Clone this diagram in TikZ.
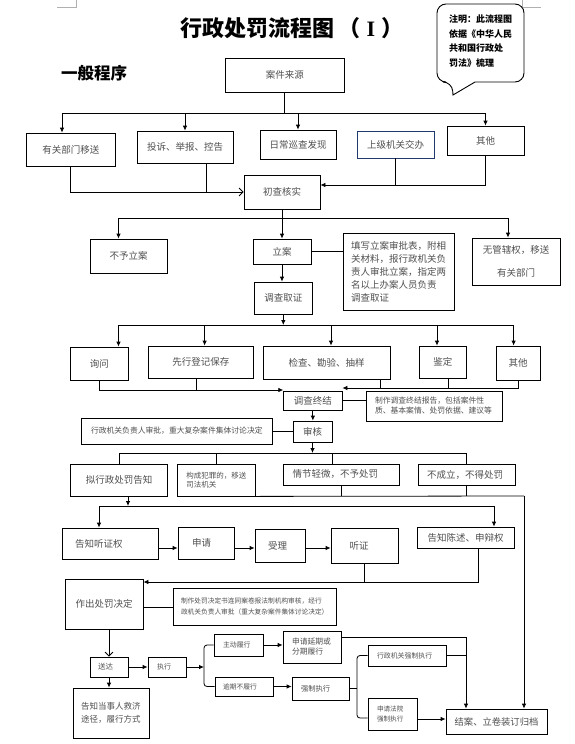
\documentclass[tikz,border=0pt]{standalone}
\usepackage{fontspec}
\setmainfont{Noto Sans CJK SC}
\newfontfamily\romanfont{Liberation Serif}
\usetikzlibrary{arrows.meta}
\definecolor{txt}{HTML}{505050}
\definecolor{navy}{HTML}{1F3A6E}
\definecolor{cropmark}{HTML}{B0B0B0}
\begin{document}
\begin{tikzpicture}[x=1pt,y=-1pt,
  box/.style={draw=black, line width=0.8pt, inner sep=0pt, text=txt, align=center},
  fs/.style n args={2}{font=\fontsize{#1}{#2}\selectfont},
  wh/.style n args={2}{minimum width=#1pt, minimum height=#2pt},
  ln/.style={draw=black, line width=0.8pt},
  arr/.style={ln, -{Latex[length=5pt,width=4.5pt]}},
  oarr/.style={ln, -{Straight Barb[length=4pt,width=8pt]}}]
\useasboundingbox (0,0) rectangle (574,744);
\fill[white] (0,0) rectangle (574,744);
% crop marks
\draw[cropmark, line width=0.6pt] (57,7) -- (76,7) -- (76,0);
\draw[cropmark, line width=0.6pt] (522,0) -- (522,7) -- (541,7);
% title
\node[font=\fontsize{22}{22}\selectfont\bfseries] (title) at (292,28) {行政处罚流程图\hspace{4pt}（\hspace{6pt}{\romanfont\bfseries I}\hspace{6pt}）};
\node[font=\fontsize{16.5}{17}\selectfont\bfseries] (sub) at (94,73) {一般程序};
% callout
\draw[line width=0.9pt] (453,95) -- (475,82) [rounded corners=9pt] -- (524,82) -- (524,4) -- (437,4) -- (437,82) -- (452,82) [sharp corners] -- cycle;
\node[font=\fontsize{9}{14.7}\selectfont\bfseries, align=left, anchor=west, inner sep=0pt] (callout) at (449,41) {注明：此流程图\\依据《中华人民\\共和国行政处\\罚法》梳理};
% boxes
\node[box, wh={118.5}{34}, fs={9.5}{11}] (src) at (284.75,75) {案件来源};
\node[box, wh={88.5}{33}, fs={9.5}{11}] (b1) at (70.75,149.5) {有关部门移送};
\node[box, wh={96}{32}, fs={9.5}{11}] (b2) at (185,147) {投诉、举报、控告};
\node[box, wh={76}{29}, fs={9.5}{11}] (b3) at (298,144.5) {日常巡查发现};
\node[box, draw=navy, wh={77}{27}, fs={9.5}{11}] (b4) at (395.5,144.5) {上级机关交办};
\node[box, wh={77}{29}, fs={9.5}{11}] (b5) at (485.5,140.5) {其他};
\node[box, wh={76}{34}, fs={9.5}{11}] (init) at (282,192) {初查核实};
\node[box, wh={77}{34}, fs={9.5}{11}] (no) at (128.5,256) {不予立案};
\node[box, wh={58}{25}, fs={9.5}{11}] (la) at (282,251.5) {立案};
\node[box, wh={111}{77}, fs={9.5}{13}, align=left, text width=95pt, inner xsep=8pt] (lanote) at (398.5,271.5) {填写立案审批表，附相\\关材料，报行政机关负\\责人审批立案，指定两\\名以上办案人员负责\\调查取证};
\node[box, wh={88}{47}, fs={9.5}{23}] (wgx) at (516,261.5) {无管辖权，移送\\有关部门};
\node[box, wh={57.4}{32}, fs={9.5}{11}] (dc) at (283.3,298) {调查取证};
\node[box, wh={57.4}{33}, fs={9.5}{11}] (xw) at (99.3,363.5) {询问};
\node[box, wh={105.5}{32}, fs={9.5}{11}] (xx) at (200.75,362) {先行登记保存};
\node[box, wh={127}{33}, fs={9.5}{11}] (jc) at (326.5,362.5) {检查、勘验、抽样};
\node[box, wh={47.5}{32}, fs={9.5}{11}] (jd) at (442.75,362) {鉴定};
\node[box, wh={44}{34}, fs={9.5}{11}] (qt) at (518,363) {其他};
\node[box, wh={58.3}{19}, fs={9.5}{11}] (zj) at (312.85,400.5) {调查终结};
\node[box, wh={136}{30}, fs={7.8}{10}, align=left, text width=118pt, inner xsep=9pt] (zjnote) at (434,406) {制作调查终结报告，包括案件性\\质、基本案情、处罚依据、建议等};
\node[box, wh={39}{21}, fs={9.5}{11}] (sh) at (312.5,431.5) {审核};
\node[box, wh={191.6}{26}, fs={7.8}{10}] (shnote) at (176.8,431) {行政机关负责人审批，重大复杂案件集体讨论决定};
\node[box, wh={96.8}{32}, fs={9.5}{11}] (ng) at (119,480) {拟行政处罚告知};
\node[box, wh={77.3}{32}, fs={7.5}{9}, align=left] (fz) at (216.35,480) {构成犯罪的，移送\\司法机关};
\node[box, wh={115.3}{21}, fs={9.5}{11}, align=left, text width=97.7pt, inner xsep=8.8pt] (qj) at (341.35,474.5) {情节轻微，不予处罚};
\node[box, wh={97}{21}, fs={9.5}{11}, align=left, text width=79pt, inner xsep=9pt] (bcl) at (466.5,474.5) {不成立，不得处罚};
\node[box, wh={96}{31}, fs={9.5}{11}, align=left, text width=70pt, inner xsep=13pt] (tz) at (110,543.5) {告知听证权};
\node[box, wh={56}{32}, fs={9.5}{11}, align=left, text width=28pt, inner xsep=14pt] (sq) at (206,543) {申请};
\node[box, wh={50}{33}, fs={9.5}{11}, align=left, text width=24pt, inner xsep=13pt] (sl) at (280,545.5) {受理};
\node[box, wh={67}{35}, fs={9.5}{11}, align=left, text width=30pt, inner xsep=18.5pt] (tzh) at (364.5,545.5) {听证};
\node[box, wh={97}{21}, fs={9.5}{11}] (cs) at (465.5,537.5) {告知陈述、申辩权};
\node[box, wh={78}{50}, fs={9.5}{11}] (zc) at (104,604) {作出处罚决定};
\node[box, wh={163}{37}, fs={6.7}{11}, align=left, text width=147pt, inner xsep=8pt] (zcnote) at (254.5,606.5) {制作处罚决定书连同案卷报法制机构审核，经行\\政机关负责人审批（重大复杂案件集体讨论决定）};
\node[box, wh={38}{20}, fs={7.5}{9}, align=left, text width=22pt, inner xsep=8pt] (sd) at (109,667) {送达};
\node[box, wh={76}{50}, fs={8.5}{13}, align=left, text width=60pt, inner xsep=8pt] (gz) at (111,713) {告知当事人救济\\途径，履行方式};
\node[box, wh={38}{20}, fs={7}{9}, align=left, text width=20pt, inner xsep=9pt] (zx) at (167,667) {执行};
\node[box, wh={49}{22}, fs={6.9}{9}, align=left, text width=31pt, inner xsep=9pt] (zd) at (238.5,645) {主动履行};
\node[box, wh={58}{19}, fs={6.8}{9}, align=left, text width=42pt, inner xsep=8pt] (yq) at (244,686.5) {逾期不履行};
\node[box, wh={58}{32}, fs={7.8}{10}, align=left, text width=40pt, inner xsep=9pt] (yqsq) at (312,647) {申请延期或\\分期履行};
\node[box, wh={57}{23}, fs={7.3}{9}, align=left, text width=39pt, inner xsep=9pt] (qz) at (320.5,688.5) {强制执行};
\node[box, wh={78}{21}, fs={6.9}{9}, align=left, text width=60pt, inner xsep=9pt] (xzqz) at (407,655.5) {行政机关强制执行};
\node[box, wh={49}{32}, fs={6.6}{10}, align=left, text width=31pt, inner xsep=9pt] (fy) at (392.5,714) {申请法院\\强制执行};
\node[box, wh={101}{25}, fs={9.3}{11}] (ja) at (496.5,721.5) {结案、立卷装订归档};
% connectors: sources
\coordinate (tL) at (62,113);
\coordinate (tR) at (b5.north |- 0,113);
\draw[ln] (src.south) -- (src.south |- tL);
\draw[ln] (tL) -- (tR);
\draw[arr] (tL) -- (tL |- b1.north);
\draw[arr] (b2.north |- tL) -- (b2.north);
\draw[arr] (b3.north |- tL) -- (b3.north);
\draw[arr] (tR) -- (b5.north);
\draw[oarr] (b1.south) |- (init.west);
\coordinate (j2) at (206,192);
\draw[ln] (b2.south -| j2) -- (j2);
\coordinate (j5) at (init.east |- 0,185);
\draw[arr] (b5.south) |- (j5);
\draw[ln] (b4.south) -- (b4.south |- j5);
% initial check
\coordinate (c0) at (init.south |- 0,218);
\coordinate (cL) at (118.5,218);
\coordinate (cR) at (508,218);
\draw[ln] (init.south) -- (c0);
\draw[ln] (cL) -- (cR);
\draw[arr] (cL) -- (cL |- no.north);
\draw[arr] (c0) -- (c0 |- la.north);
\draw[arr] (cR) -- (cR |- wgx.north);
\draw[ln] (la.east) -- (la.east -| lanote.west);
\draw[arr] (la.south) -- (la.south |- dc.north);
% investigation
\coordinate (d0) at (dc.south |- 0,325);
\coordinate (dL) at (118.5,325);
\coordinate (dR) at (513.6,325);
\coordinate (d2) at (204.6,325);
\coordinate (d3) at (331,325);
\coordinate (d4) at (437,325);
\draw[arr] (dc.south) -- (d0);
\draw[ln] (dL) -- (dR);
\draw[arr] (dL) -- (dL |- xw.north);
\draw[arr] (d2) -- (d2 |- xx.north);
\draw[arr] (d3) -- (d3 |- jc.north);
\draw[arr] (d4) -- (d4 |- jd.north);
\draw[arr] (dR) -- (dR |- qt.north);
\coordinate (zL) at (zj.north west |- 0,390);
\coordinate (zR) at (zj.north east |- 0,388);
\coordinate (x2) at (196,390);
\coordinate (x3) at (380,388);
\coordinate (x4) at (448,388);
\draw[arr] (xw.south) |- (zL);
\draw[ln] (x2 |- xx.south) -- (x2);
\draw[arr] (qt.south) |- (zR);
\draw[ln] (x3 |- jc.south) -- (x3);
\draw[ln] (x4 |- jd.south) -- (x4);
\draw[ln] (zj.east) -- (zj.east -| zjnote.west);
\draw[arr] (zj.south) -- (zj.south |- sh.north);
\draw[ln] (shnote.east) -- (shnote.east -| sh.west);
% review
\coordinate (e0) at (sh.south |- 0,453);
\coordinate (e3) at (332,453);
\draw[arr] (sh.south) -- (e0);
\draw[ln] (ng.north |- e0) -- (bcl.north |- e0);
\draw[ln] (ng.north |- e0) -- (ng.north);
\draw[ln] (fz.north |- e0) -- (fz.north);
\draw[ln] (e3) -- (e3 |- qj.north);
\draw[ln] (bcl.north |- e0) -- (bcl.north);
\coordinate (g0) at (524,496);
\draw[ln] (fz.south east) -- (g0);
\draw[ln] (qj.south) -- (qj.south |- g0);
\draw[ln] (bcl.south) -- (bcl.south |- g0);
\draw[arr] (g0) -- (g0 |- ja.north);
% notification
\coordinate (k0) at (128,506);
\coordinate (kL) at (99,506);
\coordinate (kR) at (494,506);
\draw[arr] (k0 |- ng.south) -- (k0);
\draw[ln] (kL) -- (kR);
\draw[arr] (kL) -- (kL |- tz.north);
\draw[arr] (kR) -- (kR |- cs.north);
\coordinate (hy) at (0,548);
\draw[arr] (tz.east |- hy) -- (sq.west |- hy);
\draw[arr] (sq.east |- hy) -- (sl.west |- hy);
\draw[arr] (sl.east |- hy) -- (tzh.west |- hy);
\coordinate (m0) at (478,582);
\draw[arr] (m0 |- cs.south) -- (m0) -- (m0 -| zc.east);
\draw[ln] (tzh.south) -- (tzh.south |- m0);
% decision
\coordinate (ny) at (0,607);
\draw[ln] (zc.east |- ny) -- (zcnote.west |- ny);
\draw[oarr] (sd.north |- zc.south) -- (sd.north);
\draw[arr] (sd.south) -- (sd.south |- gz.north);
\draw[arr] (sd.east) -- (zx.west);
\coordinate (n0) at (204,667);
\draw[arr] (zx.east) -- (n0);
\draw[ln, rounded corners=3pt] (zd.west) -| (n0) |- (yq.west);
\draw[arr] (zd.east) -- (zd.east -| yqsq.west);
\draw[arr] (yq.east) -- (yq.east -| qz.west);
\coordinate (p0) at (466,637);
\draw[arr] (p0 -| yqsq.east) -- (p0) -- (p0 |- ja.north);
\draw[ln] (xzqz.east) -- (xzqz.east -| p0);
\coordinate (q0) at (357,688.5);
\draw[ln] (qz.east) -- (q0);
\draw[ln, rounded corners=3pt] (xzqz.west) -| (q0) |- (fy.west |- 0,718);
\draw[arr] (fy.east |- 0,719) -- (ja.west |- 0,719);
\end{tikzpicture}
\end{document}
